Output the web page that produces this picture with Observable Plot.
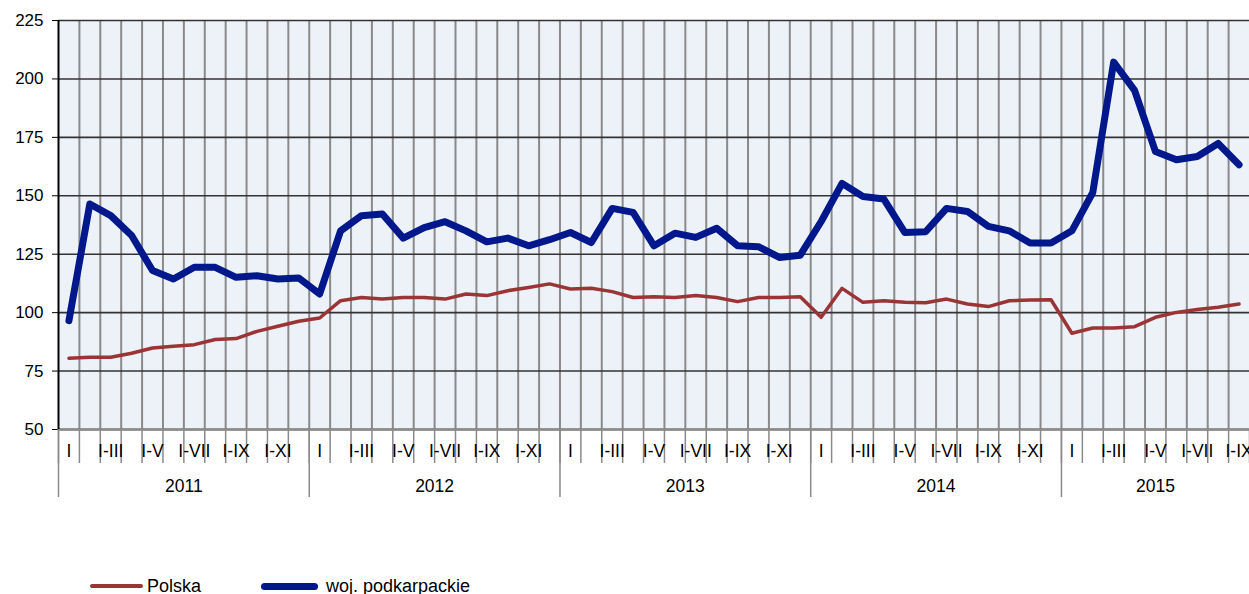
<!DOCTYPE html>
<html>
<head>
<meta charset="utf-8">
<script src="https://cdn.jsdelivr.net/npm/d3@7"></script>
<script src="https://cdn.jsdelivr.net/npm/@observablehq/plot@0.6"></script>
<style>
  html, body { margin: 0; padding: 0; background: #fff; width: 1249px; height: 594px; overflow: hidden; font-family: "Liberation Sans", Arial, sans-serif; }
  #chart { position: absolute; left: 0; top: 0; }
  .leg { position: absolute; top: 576px; height: 20px; font-size: 18px; color: #000; line-height: 18px; }
  .sw { position: absolute; border-radius: 4px; }
</style>
</head>
<body>
<div id="chart"></div>
<div class="leg" id="legend"></div>
<script>
// ---- data ----
const years = ["2011", "2012", "2013", "2014", "2015"];
const monthsPerYear = [12, 12, 12, 12, 9];
const monthTickLabels = ["I", "I-III", "I-V", "I-VII", "I-IX", "I-XI"]; // for months 1,3,5,7,9,11
const seriesNames = ["Polska", "woj. podkarpackie"];
const seriesColors = ["#9b3535", "#00188c"];

const polska = [
  80.5, 80.9, 80.9, 82.6, 84.9, 85.6, 86.3, 88.5, 88.9, 92.0, 94.2, 96.3,
  97.7, 105.1, 106.5, 105.8, 106.5, 106.5, 105.8, 108.0, 107.3, 109.4, 110.8, 112.3,
  110.1, 110.4, 109.0, 106.5, 106.8, 106.5, 107.3, 106.5, 104.7, 106.5, 106.5, 106.8,
  98.0, 110.4, 104.4, 105.1, 104.4, 104.2, 105.8, 103.7, 102.6, 105.1, 105.4, 105.5,
  91.2, 93.4, 93.4, 94.0, 98.0, 100.1, 101.3, 102.3, 103.7
];
const podkarpackie = [
  96.6, 146.5, 141.5, 133.0, 118.0, 114.4, 119.4, 119.4, 115.1, 115.8, 114.4, 114.8,
  108.0, 135.0, 141.5, 142.2, 131.9, 136.4, 138.9, 135.0, 130.3, 131.9, 128.6, 131.2,
  134.3, 130.0, 144.6, 142.9, 128.6, 134.0, 132.2, 136.1, 128.6, 128.2, 123.6, 124.6,
  139.0, 155.3, 149.7, 148.6, 134.3, 134.6, 144.6, 143.3, 136.9, 135.0, 129.8, 129.8,
  135.0, 151.4, 207.2, 195.1, 168.9, 165.4, 166.8, 172.4, 163.3
];
const yTicks = [50, 75, 100, 125, 150, 175, 200, 225];

// ---- derived ----
const nMonths = d3.sum(monthsPerYear);
const rows = [];
let k = 0;
years.forEach((y, yi) => {
  for (let m = 0; m < monthsPerYear[yi]; m++, k++) {
    rows.push({pos: k + 0.5, month: m + 1, year: y, polska: polska[k], podk: podkarpackie[k]});
  }
});
const boundaries = d3.range(0, nMonths + 1);
const yearStarts = [];
const yearCenters = [];
{ let s = 0; monthsPerYear.forEach(n => { yearStarts.push(s); yearCenters.push(s + n / 2); s += n; }); }
const monthLabelMap = new Map();
rows.forEach(r => { if (r.month % 2 === 1) monthLabelMap.set(r.pos, monthTickLabels[(r.month - 1) / 2]); });
const yearLabelMap = new Map(yearCenters.map((c, i) => [c, years[i]]));

const chart = Plot.plot({
  width: 1249,
  height: 520,
  marginLeft: 58,
  marginRight: 0,
  marginTop: 20,
  marginBottom: 91,
  style: {fontFamily: "'Liberation Sans', Arial, sans-serif", fontSize: "17px", color: "#000", background: "transparent", overflow: "visible"},
  x: {type: "linear", domain: [0, nMonths]},
  y: {domain: [50, 225]},
  marks: [
    Plot.frame({fill: "#edf1f8", stroke: null}),
    Plot.ruleX(boundaries.slice(1, -1), {stroke: "#8a8a8a", strokeWidth: 2}),
    Plot.ruleY(yTicks, {stroke: "#333", strokeWidth: 1.6}),
    Plot.ruleY([50], {stroke: "#8a8a8a", strokeWidth: 2.5}),
    Plot.ruleX([0], {stroke: "#000", strokeWidth: 2}),
    Plot.axisY(yTicks, {tickSize: 6, tickPadding: 9, fontSize: 17, label: null, stroke: "#000"}),
    Plot.axisX(boundaries, {tickSize: 34, tickFormat: () => "", stroke: "#8a8a8a", strokeWidth: 1.5, label: null}),
    Plot.axisX([...monthLabelMap.keys()], {tickSize: 0, tickPadding: 15, fontSize: 17.5, tickFormat: d => monthLabelMap.get(d), label: null}),
    Plot.axisX(yearStarts, {tickSize: 68, tickFormat: () => "", stroke: "#8a8a8a", strokeWidth: 1.5, label: null}),
    Plot.axisX(yearCenters, {tickSize: 0, tickPadding: 50, fontSize: 17.5, tickFormat: d => yearLabelMap.get(d), label: null}),
    Plot.line(rows, {x: "pos", y: "polska", stroke: seriesColors[0], strokeWidth: 3.5, strokeLinejoin: "round"}),
    Plot.line(rows, {x: "pos", y: "podk", stroke: seriesColors[1], strokeWidth: 7, strokeLinejoin: "round"})
  ]
});
document.getElementById("chart").appendChild(chart);

// legend
const legend = document.getElementById("legend");
const legendItems = [
  {name: seriesNames[0], color: seriesColors[0], x1: 90, x2: 143, w: 3.5, tx: 147},
  {name: seriesNames[1], color: seriesColors[1], x1: 261, x2: 318, w: 7, tx: 326}
];
legendItems.forEach(it => {
  const sw = document.createElement("div");
  sw.className = "sw";
  sw.style.left = it.x1 + "px";
  sw.style.width = (it.x2 - it.x1) + "px";
  sw.style.height = it.w + "px";
  sw.style.top = (10 - it.w / 2) + "px";
  sw.style.background = it.color;
  legend.appendChild(sw);
  const t = document.createElement("div");
  t.style.position = "absolute";
  t.style.left = it.tx + "px";
  t.style.top = "1px";
  t.style.whiteSpace = "nowrap";
  t.textContent = it.name;
  legend.appendChild(t);
});
</script>
</body>
</html>
